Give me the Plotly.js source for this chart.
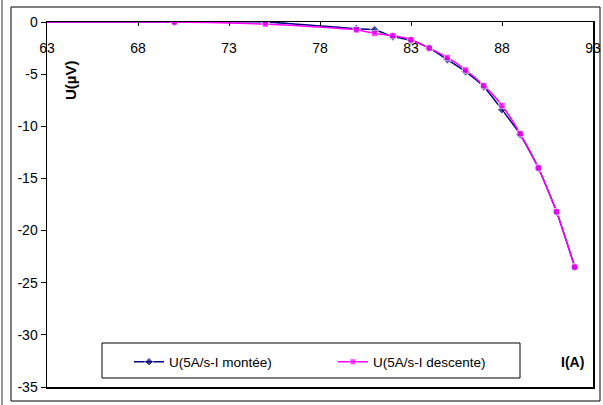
<!DOCTYPE html>
<html>
<head>
<meta charset="utf-8">
<script src="https://cdn.plot.ly/plotly-3.0.1.min.js"></script>
<style>html,body{margin:0;padding:0;background:#fff;}#chart{width:603px;height:405px;}</style>
</head>
<body>
<div id="chart"></div>
<script>
const current = [63, 70, 75, 80, 81, 82, 83, 84, 85, 86, 87, 88, 89, 90, 91, 92];
const voltageUp = [0, 0, 0, -0.65, -0.75, -1.4, -1.75, -2.5, -3.6, -4.75, -6.2, -8.4, -10.8, -14.0, -18.2, -23.5];
const voltageDown = [0, 0, -0.2, -0.75, -1.1, -1.3, -1.7, -2.5, -3.4, -4.6, -6.1, -8.0, -10.7, -14.0, -18.2, -23.5];
const seriesNames = ['U(5A/s-I montée)', 'U(5A/s-I descente)'];
const xTicks = [63, 68, 73, 78, 83, 88, 93];
const yTicks = [0, -5, -10, -15, -20, -25, -30, -35];

const sizes = current.map((v, i) => i === 0 ? 0 : 7);
const fam = 'Liberation Sans, Arial, sans-serif';
const font = {family: fam, size: 13.5, color: '#000'};
const tickFont = {family: fam, size: 14, color: '#000'};
const titleFont = {family: fam, size: 14, color: '#000'};

const traces = [
  {x: [], y: [], xaxis: 'x2', yaxis: 'y', type: 'scatter', mode: 'markers', showlegend: false, hoverinfo: 'skip'},
  {x: current, y: voltageUp, name: seriesNames[0], type: 'scatter', mode: 'lines+markers',
   line: {color: '#000080', width: 1.5, shape: 'spline', smoothing: 0.5},
   marker: {symbol: 'diamond', size: sizes, color: '#000080'}},
  {x: current, y: voltageDown, name: seriesNames[1], type: 'scatter', mode: 'lines+markers',
   line: {color: '#FF00FF', width: 1.5, shape: 'spline', smoothing: 0.5},
   marker: {symbol: 'square', size: sizes.map(s => s ? 6.5 : 0), color: '#FF00FF'}}
];

const layout = {
  width: 603, height: 405,
  margin: {l: 47, r: 10, t: 22, b: 18, pad: 0},
  paper_bgcolor: '#fff', plot_bgcolor: '#fff',
  font: font,
  showlegend: true,
  legend: {orientation: 'h', x: (129-47)/546, y: (387-362)/365, xanchor: 'left', yanchor: 'middle',
           bgcolor: 'rgba(0,0,0,0)', borderwidth: 0, font: font, entrywidth: 159, traceorder: 'normal'},
  xaxis: {range: [63, 93], tickvals: xTicks, side: 'top',
          ticks: 'inside', ticklen: 4, tickcolor: '#000', tickwidth: 1, showticklabels: false,
          showline: true, linecolor: '#000', linewidth: 1.5, mirror: true,
          showgrid: false, zeroline: false},
  xaxis2: {range: [63, 93], overlaying: 'x', anchor: 'free', position: (387-38)/365, side: 'bottom',
           tickvals: xTicks, ticktext: xTicks.map(String), ticks: '', showline: false,
           showgrid: false, zeroline: false, tickfont: tickFont},
  yaxis: {range: [-35, 0], tickvals: yTicks, ticktext: yTicks.map(String),
          ticks: 'outside', ticklen: 5, tickcolor: '#000',
          showline: true, linecolor: '#000', linewidth: 1.5, mirror: true,
          showgrid: false, zeroline: false, tickfont: tickFont},
  shapes: [
    {type: 'rect', xref: 'paper', yref: 'paper', x0: (102-47)/546, x1: (520-47)/546,
     y0: (387-378)/365, y1: (387-343)/365, line: {color: '#000', width: 1}, fillcolor: 'rgba(0,0,0,0)'},
    {type: 'rect', xref: 'paper', yref: 'paper', x0: (11-47)/546, x1: (600-47)/546,
     y0: (387-401)/365, y1: (387-7)/365, line: {color: '#000', width: 1}, fillcolor: 'rgba(0,0,0,0)'},
    {type: 'line', xref: 'paper', yref: 'paper', x0: (2-47)/546, x1: (2-47)/546,
     y0: (387-405)/365, y1: (387-0)/365, line: {color: '#999', width: 2}}
  ],
  annotations: [
    {text: '<b>U(µV)</b>', xref: 'paper', yref: 'paper', x: (70-47)/546, y: (387-81)/365,
     showarrow: false, textangle: -90, font: {family: fam, size: 15, color: '#000'}, xanchor: 'center', yanchor: 'middle'},
    {text: '<b>I(A)</b>', xref: 'paper', yref: 'paper', x: (572-47)/546, y: (387-362)/365,
     showarrow: false, font: titleFont, xanchor: 'center', yanchor: 'middle'}
  ]
};

Plotly.newPlot('chart', traces, layout, {displayModeBar: false, staticPlot: true});
</script>
</body>
</html>
